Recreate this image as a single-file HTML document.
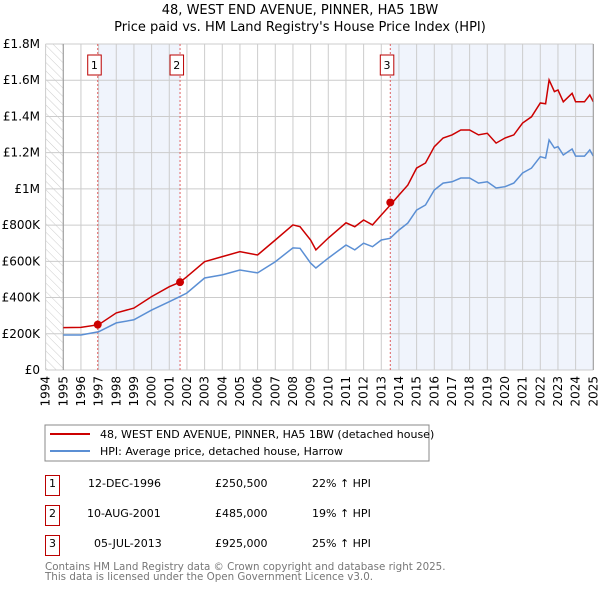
<!DOCTYPE html>
<html><head><meta charset="utf-8"><style>
body{margin:0;background:#fff;font-family:"DejaVu Sans","Liberation Sans",sans-serif;}
svg text{font-family:"DejaVu Sans","Liberation Sans",sans-serif;}
</style></head><body>
<svg id="c" width="600" height="590" xmlns="http://www.w3.org/2000/svg">
<defs><pattern id="hatch" width="6" height="6" patternUnits="userSpaceOnUse" patternTransform="rotate(-45)"><line x1="0" y1="0" x2="0" y2="6" stroke="#ccc" stroke-width="1"/></pattern></defs>
<text x="300" y="14" text-anchor="middle" font-size="13">48, WEST END AVENUE, PINNER, HA5 1BW</text>
<text x="300" y="31" text-anchor="middle" font-size="13">Price paid vs. HM Land Registry's House Price Index (HPI)</text>
<g id="plot"></g>
<rect x="45" y="425" width="384" height="36" fill="#fff" stroke="#888"/>
<line x1="50" y1="434" x2="90" y2="434" stroke="#cc0000" stroke-width="2"/>
<text x="100" y="438" font-size="11">48, WEST END AVENUE, PINNER, HA5 1BW (detached house)</text>
<line x1="50" y1="451" x2="90" y2="451" stroke="#5b8fd4" stroke-width="2"/>
<text x="100" y="455" font-size="11">HPI: Average price, detached house, Harrow</text>
<g font-size="11">
<rect x="45.5" y="475.5" width="14" height="20" fill="none" stroke="#b00"/><text x="52.5" y="487" text-anchor="middle">1</text>
<text x="88" y="487">12-DEC-1996</text><text x="215" y="487">£250,500</text><text x="312" y="487">22% ↑ HPI</text>
<rect x="45.5" y="505.5" width="14" height="20" fill="none" stroke="#b00"/><text x="52.5" y="517" text-anchor="middle">2</text>
<text x="87" y="517">10-AUG-2001</text><text x="215" y="517">£485,000</text><text x="312" y="517">19% ↑ HPI</text>
<rect x="45.5" y="535.5" width="14" height="20" fill="none" stroke="#b00"/><text x="52.5" y="547" text-anchor="middle">3</text>
<text x="94" y="547">05-JUL-2013</text><text x="215" y="547">£925,000</text><text x="312" y="547">25% ↑ HPI</text>
</g>
<text x="45" y="570" font-size="10.3" fill="#777">Contains HM Land Registry data © Crown copyright and database right 2025.</text>
<text x="45" y="580" font-size="10.3" fill="#777">This data is licensed under the Open Government Licence v3.0.</text>
</svg>
<script>
const hpiYears=[1995,1996,1997,1998,1999,2000,2001,2001.6,2002,2003,2004,2005,2006,2007,2008,2008.4,2009,2009.3,2010,2011,2011.5,2012,2012.5,2013,2013.5,2014,2014.5,2015,2015.5,2016,2016.5,2017,2017.5,2018,2018.5,2019,2019.5,2020,2020.5,2021,2021.5,2022,2022.3,2022.5,2022.8,2023,2023.3,2023.8,2024,2024.5,2024.8,2025];
const hpiValues=[193,193,211,260,277,331,377,405,425,508,525,552,536,598,674,672,590,563,618,690,663,700,681,718,727,773,811,883,911,994,1032,1039,1060,1060,1032,1039,1005,1012,1032,1088,1115,1178,1170,1270,1226,1233,1187,1220,1181,1181,1215,1181];
const propValues=[234,235,250,315,342,405,460,485,515,598,626,653,635,718,801,791,718,663,729,813,791,828,801,856,910,966,1021,1115,1143,1233,1281,1298,1325,1325,1298,1307,1253,1281,1298,1364,1398,1474,1470,1601,1537,1546,1481,1528,1481,1481,1519,1481];
const saleYears=[1996.95,2001.61,2013.51];
const saleValues=[250.5,485,925];
const yTicks=[0,200,400,600,800,1000,1200,1400,1600,1800];
const yTickLabels=["£0","£200K","£400K","£600K","£800K","£1M","£1.2M","£1.4M","£1.6M","£1.8M"];
const xTicks=[1994,1995,1996,1997,1998,1999,2000,2001,2002,2003,2004,2005,2006,2007,2008,2009,2010,2011,2012,2013,2014,2015,2016,2017,2018,2019,2020,2021,2022,2023,2024,2025];

const L=45.6,R=593.3,T=44,B=370;
const X=y=>L+(y-1994)/31*(R-L);
const Y=v=>B-v/1800*(B-T);
const NS="http://www.w3.org/2000/svg";
const g=document.getElementById('plot');
function mk(tag,a){const e=document.createElementNS(NS,tag);for(const k in a)e.setAttribute(k,a[k]);g.appendChild(e);return e;}

let e=mk('rect',{x:X(1994),y:T,width:X(1995)-X(1994),height:B-T,fill:'url(#hatch)'});


e=mk('rect',{x:X(saleYears[0]),y:T,width:X(saleYears[1])-X(saleYears[0]),height:B-T,fill:'#f0f4fc'});


e=mk('rect',{x:X(saleYears[2]),y:T,width:R-X(saleYears[2]),height:B-T,fill:'#f0f4fc'});



yTicks.forEach((v,i)=>{
  const l=mk('line',{x1:L,x2:R,y1:Y(v),y2:Y(v),stroke:'#ccc','stroke-width':1});
  
  
  const t=mk('text',{x:40,y:Y(v)+4,'text-anchor':'end','font-size':12});
  t.textContent=yTickLabels[i];
  
  
});
xTicks.forEach(yr=>{
  const l=mk('line',{x1:X(yr),x2:X(yr),y1:T,y2:B,stroke:'#ccc','stroke-width':1});
  
  
  const t=mk('text',{x:0,y:0,'font-size':12,'text-anchor':'end',transform:`translate(${X(yr)+4},${B+6}) rotate(-90)`});
  t.textContent=yr;
  
  
});
e=mk('line',{x1:X(1995),x2:X(1995),y1:T,y2:B,stroke:'#999','stroke-width':1});



saleYears.forEach((yr,i)=>{
  const l=mk('line',{x1:X(yr),x2:X(yr),y1:T,y2:B,stroke:'#e06060','stroke-width':1,'stroke-dasharray':'2,2'});
  
  
  const r=mk('rect',{x:X(yr)-10,y:55,width:13.5,height:20,fill:'#fff',stroke:'#b00'});
  
  
  const t=mk('text',{x:X(yr)-3.3,y:69,'text-anchor':'middle','font-size':11});
  t.textContent=String(i+1);
  
  
});

function path(vals){return hpiYears.map((yr,i)=>(i?'L':'M')+X(yr).toFixed(1)+','+Y(vals[i]).toFixed(1)).join(' ');}
e=mk('path',{d:path(hpiValues),fill:'none',stroke:'#5b8fd4','stroke-width':1.5});


e=mk('path',{d:path(propValues),fill:'none',stroke:'#cc0000','stroke-width':1.5});


saleYears.forEach((yr,i)=>{
  const c=mk('circle',{cx:X(yr),cy:Y(saleValues[i]),r:4,fill:'#cc0000'});
  
  
});
e=mk('line',{x1:R,x2:R,y1:T,y2:B,stroke:'#999','stroke-width':1});


</script>
</body></html>
